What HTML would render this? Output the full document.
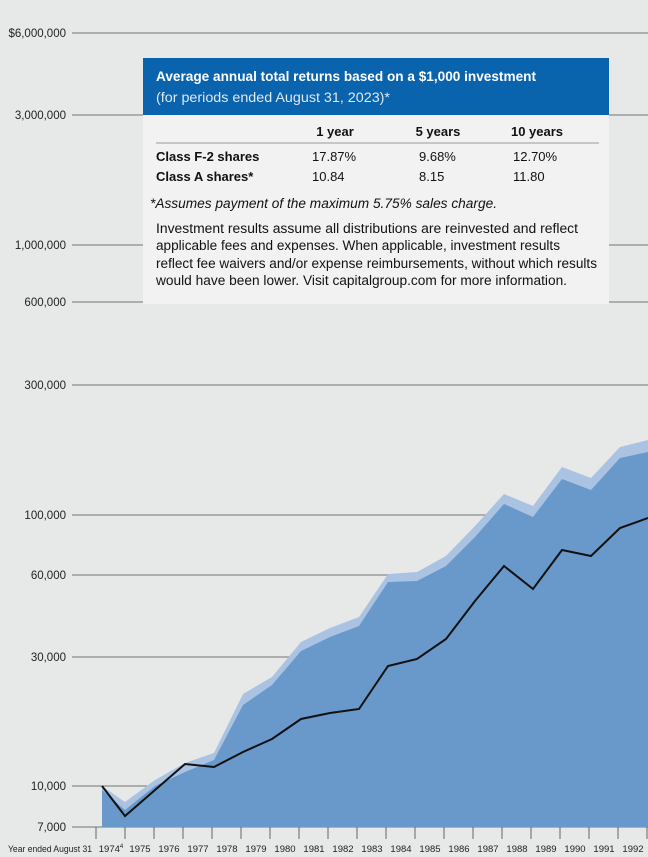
<!DOCTYPE html>
<html><head><meta charset="utf-8"><style>
body{margin:0;background:#e7e8e8;font-family:"Liberation Sans",sans-serif;}
</style></head><body>
<svg width="648" height="857" xmlns="http://www.w3.org/2000/svg" style="display:block">
<rect width="648" height="857" fill="#e7e8e8"/>
<g stroke="#8a8a8a" stroke-width="1.3">
<line x1="72" y1="33" x2="648" y2="33"/><line x1="72" y1="115" x2="648" y2="115"/>
<line x1="72" y1="245" x2="648" y2="245"/><line x1="72" y1="302" x2="648" y2="302"/>
<line x1="72" y1="385" x2="648" y2="385"/><line x1="72" y1="515" x2="648" y2="515"/>
<line x1="72" y1="575" x2="648" y2="575"/><line x1="72" y1="657" x2="648" y2="657"/>
<line x1="72" y1="786" x2="648" y2="786"/><line x1="72" y1="827" x2="648" y2="827"/>
</g>
<g font-size="11.5" fill="#222" text-anchor="end">
<text x="66" y="37">$6,000,000</text><text x="66" y="119">3,000,000</text>
<text x="66" y="249">1,000,000</text><text x="66" y="306">600,000</text>
<text x="66" y="389">300,000</text><text x="66" y="519">100,000</text>
<text x="66" y="579">60,000</text><text x="66" y="661">30,000</text>
<text x="66" y="790">10,000</text><text x="66" y="831">7,000</text>
</g>
<polygon fill="#aac3e3" points="102,827 102,786 125,802 155,780 185,763 214,753 243,694 272,677 301,642 330,628 359,617 388,574 417,572 446,556 475,526 504,494 533,506 562,467 591,478 620,447 648,440 648,827"/>
<polygon fill="#6899ca" points="102,827 102,790 125,810 155,786 185,772 214,760 243,705 272,685 301,651 330,637 359,626 388,582 417,581 446,566 475,537 504,504 533,517 562,479 591,490 620,458 648,452 648,827"/>
<polyline fill="none" stroke="#111" stroke-width="2" stroke-linejoin="miter" points="102,786 125,816 155,790 185,764 214,767 243,752 272,739 301,719 330,713 359,709 388,666 417,659 446,639 475,601 504,566 533,589 562,550 591,556 620,528 648,518"/>
<g stroke="#666" stroke-width="1">
<line x1="96" y1="827" x2="96" y2="839"/><line x1="125" y1="827" x2="125" y2="839"/><line x1="154" y1="827" x2="154" y2="839"/><line x1="183" y1="827" x2="183" y2="839"/><line x1="212" y1="827" x2="212" y2="839"/><line x1="241" y1="827" x2="241" y2="839"/><line x1="270" y1="827" x2="270" y2="839"/><line x1="299" y1="827" x2="299" y2="839"/><line x1="328" y1="827" x2="328" y2="839"/><line x1="357" y1="827" x2="357" y2="839"/><line x1="386" y1="827" x2="386" y2="839"/><line x1="415" y1="827" x2="415" y2="839"/><line x1="444" y1="827" x2="444" y2="839"/><line x1="473" y1="827" x2="473" y2="839"/><line x1="502" y1="827" x2="502" y2="839"/><line x1="531" y1="827" x2="531" y2="839"/><line x1="560" y1="827" x2="560" y2="839"/><line x1="589" y1="827" x2="589" y2="839"/><line x1="618" y1="827" x2="618" y2="839"/><line x1="647" y1="827" x2="647" y2="839"/>
</g>
<text x="8" y="852" font-size="9" fill="#222" textLength="84" lengthAdjust="spacingAndGlyphs">Year ended August 31</text>
<g font-size="9.5" fill="#222" text-anchor="middle">
<text x="111" y="852">1974<tspan font-size="6" dy="-4">4</tspan></text>
<text x="140" y="852">1975</text><text x="169" y="852">1976</text><text x="198" y="852">1977</text><text x="227" y="852">1978</text><text x="256" y="852">1979</text><text x="285" y="852">1980</text><text x="314" y="852">1981</text><text x="343" y="852">1982</text><text x="372" y="852">1983</text><text x="401" y="852">1984</text><text x="430" y="852">1985</text><text x="459" y="852">1986</text><text x="488" y="852">1987</text><text x="517" y="852">1988</text><text x="546" y="852">1989</text><text x="575" y="852">1990</text><text x="604" y="852">1991</text><text x="633" y="852">1992</text>
</g>
<rect x="143" y="58" width="466" height="246" fill="#f2f2f2"/>
<rect x="143" y="58" width="466" height="57" fill="#0a63ad"/>
<text x="156" y="81" font-size="13.5" font-weight="bold" fill="#fff" textLength="380" lengthAdjust="spacingAndGlyphs">Average annual total returns based on a $1,000 investment</text>
<text x="156" y="102" font-size="13.5" fill="#dfe8f3" textLength="234" lengthAdjust="spacingAndGlyphs">(for periods ended August 31, 2023)*</text>
<g font-size="13" fill="#111">
<text x="335" y="136" font-weight="bold" text-anchor="middle">1 year</text>
<text x="438" y="136" font-weight="bold" text-anchor="middle">5 years</text>
<text x="537" y="136" font-weight="bold" text-anchor="middle">10 years</text>
<line x1="156" y1="143" x2="599" y2="143" stroke="#999" stroke-width="1"/>
<text x="156" y="161" font-weight="bold">Class F-2 shares</text>
<text x="312" y="161">17.87%</text><text x="419" y="161">9.68%</text><text x="513" y="161">12.70%</text>
<text x="156" y="181" font-weight="bold">Class A shares*</text>
<text x="312" y="181">10.84</text><text x="419" y="181">8.15</text><text x="513" y="181">11.80</text>
<text x="150" y="208" font-style="italic" font-size="13.5" textLength="347" lengthAdjust="spacingAndGlyphs">*Assumes payment of the maximum 5.75% sales charge.</text>
<g font-size="13.5">
<text x="156" y="233" textLength="422" lengthAdjust="spacingAndGlyphs">Investment results assume all distributions are reinvested and reflect</text>
<text x="156" y="250" textLength="404" lengthAdjust="spacingAndGlyphs">applicable fees and expenses. When applicable, investment results</text>
<text x="156" y="268" textLength="441" lengthAdjust="spacingAndGlyphs">reflect fee waivers and/or expense reimbursements, without which results</text>
<text x="156" y="285" textLength="411" lengthAdjust="spacingAndGlyphs">would have been lower. Visit capitalgroup.com for more information.</text>
</g>
</g>
</svg>
</body></html>
